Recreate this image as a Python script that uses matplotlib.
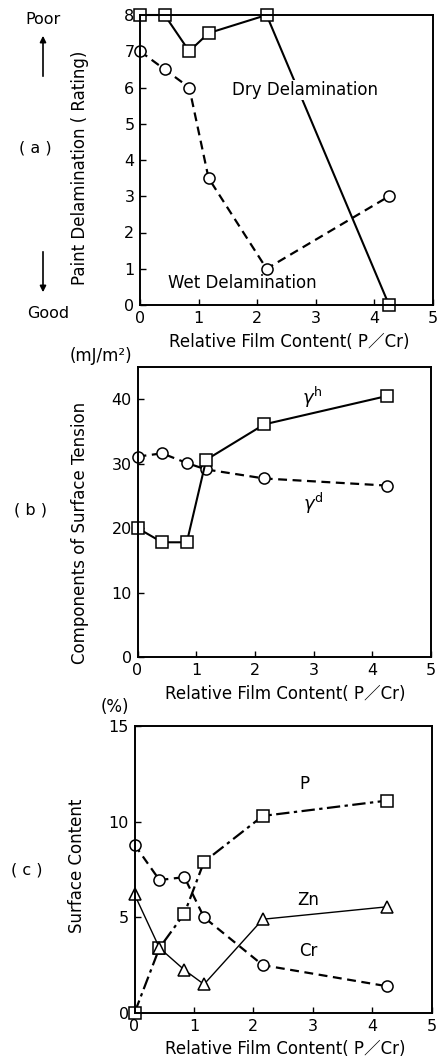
import matplotlib.pyplot as plt

plt.rcParams['font.family'] = ['DejaVu Sans', 'Noto Sans CJK JP']
plt.rcParams['mathtext.fontset'] = 'dejavusans'

# relative film content (P/Cr) of the six samples
ratio = [0, 0.42, 0.84, 1.17, 2.16, 4.25]

# (a) paint delamination rating
dry_delam = [8, 8, 7, 7.5, 8, 0]
wet_delam = [7, 6.5, 6, 3.5, 1, 3]

# (b) components of surface tension, mJ/m2
gamma_h = [20, 17.8, 17.8, 30.6, 36.1, 40.5]
gamma_d = [31.1, 31.6, 30.1, 29.1, 27.7, 26.6]

# (c) surface content, %
p_content = [0, 3.4, 5.2, 7.9, 10.3, 11.1]
zn_content = [6.2, 3.4, 2.25, 1.5, 4.9, 5.55]
cr_content = [8.8, 6.95, 7.1, 5.0, 2.5, 1.4]

W, H = 438, 1059
FS = 12
fig = plt.figure(figsize=(W / 100, H / 100), dpi=100)


def px(x, y):
    return x / W, 1 - y / H


def box(left, top, right, bottom):
    return [left / W, 1 - bottom / H, (right - left) / W, (bottom - top) / H]


def style(ax, ylim, yticks):
    ax.set_xlim(0, 5)
    ax.set_ylim(*ylim)
    ax.set_xticks(range(6))
    ax.set_yticks(yticks)
    ax.tick_params(direction='in', length=4, width=1, labelsize=11.5, pad=4)
    for s in ax.spines.values():
        s.set_linewidth(1.4)


xlab = 'Relative Film Content( P／Cr)'
sq = dict(marker='s', ms=8.5, mfc='white', mec='black', mew=1.1, color='black')
ci = dict(marker='o', ms=8, mfc='white', mec='black', mew=1.1, color='black')
tr = dict(marker='^', ms=9, mfc='white', mec='black', mew=1.1, color='black')

# (a)
ax1 = fig.add_axes(box(140, 15, 433, 305))
ax1.plot(ratio, wet_delam, ls=(0, (4, 2.5)), lw=1.6, clip_on=False, **ci)
ax1.plot(ratio, dry_delam, ls='-', lw=1.5, clip_on=False, **sq)
ax1.text(2.82, 5.93, 'Dry Delamination', fontsize=FS, ha='center', va='center',
         bbox=dict(facecolor='white', edgecolor='none', pad=1), zorder=4)
ax1.text(1.75, 0.6, 'Wet Delamination', fontsize=FS, ha='center', va='center')
style(ax1, (0, 8), range(9))

# (b)
ax2 = fig.add_axes(box(137.5, 367, 431, 657))
ax2.plot(ratio, gamma_d, ls=(0, (4, 2.5)), lw=1.6, clip_on=False, **ci)
ax2.plot(ratio, gamma_h, ls='-', lw=1.5, clip_on=False, **sq)
ax2.text(2.97, 40.3, r'$\gamma^{\rm h}$', fontsize=13, ha='center', va='center')
ax2.text(3.0, 23.8, r'$\gamma^{\rm d}$', fontsize=13, ha='center', va='center')
style(ax2, (0, 45), [0, 10, 20, 30, 40])

# (c)
ax3 = fig.add_axes(box(134.5, 726, 431.5, 1013))
ax3.plot(ratio, cr_content, ls=(0, (4, 2.5)), lw=1.6, clip_on=False, **ci)
ax3.plot(ratio, p_content, ls=(0, (6, 2, 1.5, 2)), lw=1.6, clip_on=False, **sq)
ax3.plot(ratio, zn_content, ls='-', lw=1.0, clip_on=False, **tr)
ax3.text(2.86, 11.95, 'P', fontsize=FS, ha='center', va='center')
ax3.text(2.93, 5.9, 'Zn', fontsize=FS, ha='center', va='center')
ax3.text(2.92, 3.25, 'Cr', fontsize=FS, ha='center', va='center')
style(ax3, (0, 15), [0, 5, 10, 15])

# axis titles and panel marks
fig.text(*px(289, 342), xlab, fontsize=FS, ha='center', va='center')
fig.text(*px(285, 694), xlab, fontsize=FS, ha='center', va='center')
fig.text(*px(285, 1049), xlab, fontsize=FS, ha='center', va='center')

fig.text(*px(80, 168), 'Paint Delamination ( Rating)', fontsize=FS, rotation=90,
         ha='center', va='center')
fig.text(*px(80, 533), 'Components of Surface Tension', fontsize=FS, rotation=90,
         ha='center', va='center')
fig.text(*px(77, 866), 'Surface Content', fontsize=FS, rotation=90,
         ha='center', va='center')

fig.text(*px(101, 356), '(mJ/m²)', fontsize=FS, ha='center', va='center')
fig.text(*px(115, 707), '(%)', fontsize=FS, ha='center', va='center')

fig.text(*px(35, 148), '( a )', fontsize=11.5, ha='center', va='center')
fig.text(*px(30, 510), '( b )', fontsize=11.5, ha='center', va='center')
fig.text(*px(27, 870), '( c )', fontsize=11.5, ha='center', va='center')

fig.text(*px(43, 20), 'Poor', fontsize=11.5, ha='center', va='center')
fig.text(*px(48, 313), 'Good', fontsize=11.5, ha='center', va='center')
fig.add_artist(plt.Annotation('', xy=px(43, 33), xytext=px(43, 79),
                              xycoords='figure fraction',
                              arrowprops=dict(arrowstyle='-|>', lw=1.2, color='black',
                                              mutation_scale=9)))
fig.add_artist(plt.Annotation('', xy=px(43, 295), xytext=px(43, 249),
                              xycoords='figure fraction',
                              arrowprops=dict(arrowstyle='-|>', lw=1.2, color='black',
                                              mutation_scale=9)))

fig.savefig('out.png', dpi=100)
